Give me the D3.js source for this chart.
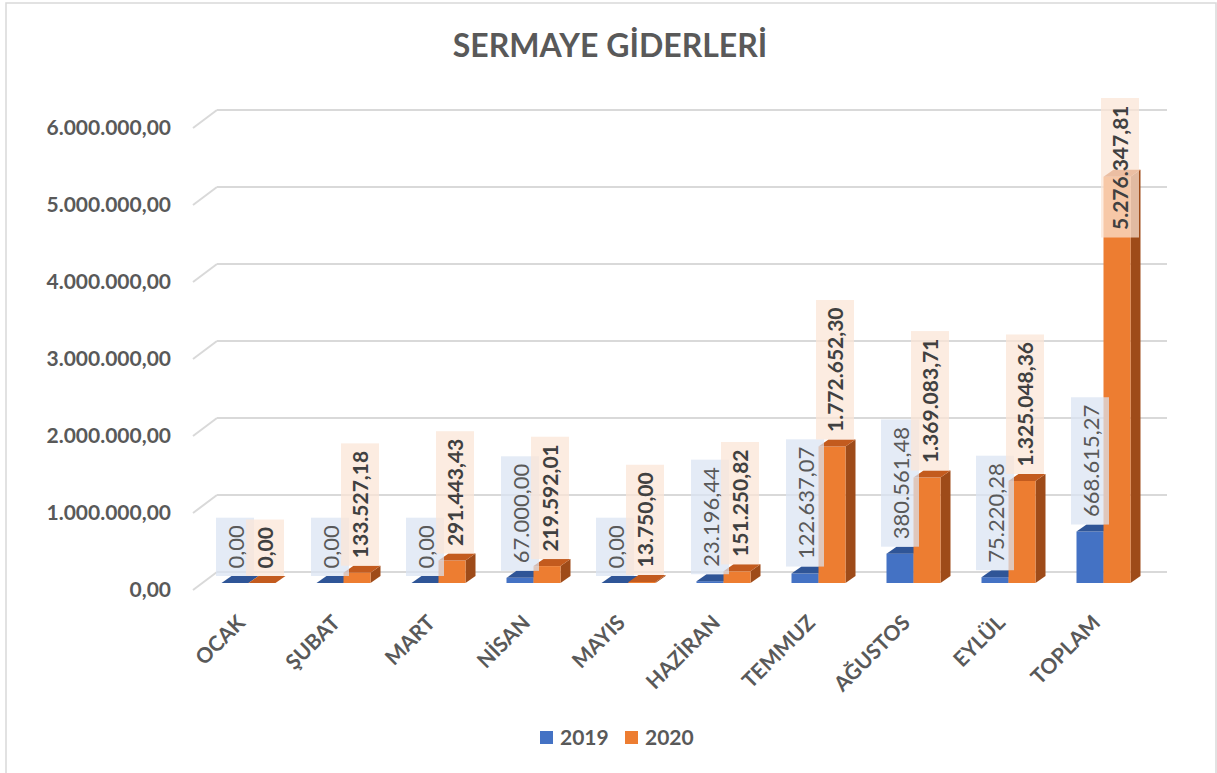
<!DOCTYPE html>
<html>
<head>
<meta charset="utf-8">
<script src="https://cdn.jsdelivr.net/npm/d3@7"></script>
<style>
  html, body { margin: 0; padding: 0; background: #fff; }
  svg { display: block; font-family: Lato, "Open Sans", sans-serif; }
</style>
</head>
<body>
<svg id="chart" width="1217" height="773"></svg>
<script>
const categories = ["OCAK", "ŞUBAT", "MART", "NİSAN", "MAYIS", "HAZİRAN", "TEMMUZ", "AĞUSTOS", "EYLÜL", "TOPLAM"];
const seriesNames = ["2019", "2020"];
const values2019 = [0, 0, 0, 67000.00, 0, 23196.44, 122637.07, 380561.48, 75220.28, 668615.27];
const values2020 = [0, 133527.18, 291443.43, 219592.01, 13750.00, 151250.82, 1772652.30, 1369083.71, 1325048.36, 5276347.81];
const yTicks = [0, 1000000, 2000000, 3000000, 4000000, 5000000, 6000000];
const titleText = "SERMAYE GİDERLERİ";

const colors = {
  "2019": { front: "#4472c4", top: "#2f5597", side: "#2b4c87", box: "#dae3f3" },
  "2020": { front: "#ed7d31", top: "#c35b1e", side: "#9e4b19", box: "#fbe5d6" }
};

const svg = d3.select("#chart");
const tr = d3.formatLocale({ decimal: ",", thousands: ".", grouping: [3], currency: ["", "₺"] });
const fmt = tr.format(",.2f");

// border
svg.append("rect").attr("x", 6).attr("y", 3).attr("width", 1210).attr("height", 780)
  .attr("fill", "#fff").attr("stroke", "#d9d9d9").attr("stroke-width", 1.5);

// title
svg.append("text").attr("x", 610).attr("y", 57).attr("text-anchor", "middle")
  .attr("font-size", 32).attr("font-weight", 700).attr("fill", "#595959").text(titleText);

const x0 = d3.scaleBand().domain(categories).range([201, 1151]).paddingInner(0.4316).paddingOuter(0.2158);
const x1 = d3.scaleBand().domain(seriesNames).range([0, x0.bandwidth()]);
const y = d3.scaleLinear().domain([0, 6000000]).range([583, 121]);

const DX = 10, DY = 7;       // bar depth
const WALL_DX = 24, WALL_DY = 18; // gridline depth
const backOff = -11;

// gridlines
const grid = svg.append("g");
yTicks.forEach(t => {
  const yb = y(t) + backOff;
  grid.append("line").attr("x1", 217).attr("x2", 1167).attr("y1", yb).attr("y2", yb)
    .attr("stroke", "#d9d9d9").attr("stroke-width", 2);
  grid.append("line").attr("x1", 217 - WALL_DX).attr("y1", yb + WALL_DY).attr("x2", 217).attr("y2", yb)
    .attr("stroke", "#d9d9d9").attr("stroke-width", 2);
});

// y axis labels
const yAxis = d3.axisLeft(y).tickValues(yTicks).tickFormat(fmt).tickSize(0).tickPadding(0);
const yg = svg.append("g").attr("transform", "translate(171,7)").call(yAxis);
yg.select(".domain").remove();
yg.selectAll("text").attr("font-size", 21).attr("font-weight", 700).attr("fill", "#595959")
  .attr("font-family", "Lato, sans-serif");

// data
const data = categories.map((c, i) => ({
  cat: c,
  items: [
    { s: "2019", v: values2019[i] },
    { s: "2020", v: values2020[i] }
  ]
}));

const bars = svg.append("g");
data.forEach(d => {
  d.items.forEach(it => {
    const xL = x0(d.cat) + x1(it.s);
    const w = x1.bandwidth();
    const yT = y(it.v), yB = y(0);
    const c = colors[it.s];
    bars.append("path")
      .attr("d", `M${xL + w},${yT} L${xL + w + DX},${yT - DY} L${xL + w + DX},${yB - DY} L${xL + w},${yB} Z`)
      .attr("fill", c.side);
    bars.append("rect").attr("x", xL).attr("y", yT).attr("width", w).attr("height", Math.max(0, yB - yT))
      .attr("fill", c.front);
    bars.append("path")
      .attr("d", `M${xL},${yT} L${xL + DX},${yT - DY} L${xL + w + DX},${yT - DY} L${xL + w},${yT} Z`)
      .attr("fill", c.top);
  });
});

// data labels
const labels = svg.append("g");
data.forEach(d => {
  d.items.forEach(it => {
    const xL = x0(d.cat) + x1(it.s);
    const w = x1.bandwidth();
    const cx = xL + w / 2 + (it.s === "2020" ? 3 : 0);
    const g = labels.append("g");
    const box = g.append("rect");
    const txt = g.append("text")
      .attr("font-size", it.s === "2020" ? 21 : 22)
      .attr("font-weight", it.s === "2020" ? 700 : 400)
      .attr("fill", it.s === "2020" ? "#404040" : "#595959")
      .attr("text-anchor", "middle")
      .attr("dominant-baseline", "central")
      .text(fmt(it.v));
    const len = txt.node().getComputedTextLength();
    const h = len + 15;
    let bottom = y(it.v) - DY;
    let top = bottom - h;
    if (top < 98) { top = 98; bottom = top + h; }
    box.attr("x", cx - 19).attr("y", top).attr("width", 38).attr("height", h)
      .attr("fill", colors[it.s].box).attr("fill-opacity", 0.72);
    txt.attr("transform", `translate(${cx},${(top + bottom) / 2}) rotate(-90)`);
  });
});

// category labels
const xg = svg.append("g");
categories.forEach(c => {
  const cx = x0(c) + x0.bandwidth() / 2;
  xg.append("text")
    .attr("transform", `translate(${cx - 2},${624}) rotate(-45)`)
    .attr("text-anchor", "end")
    .attr("font-size", 21).attr("font-weight", 700).attr("fill", "#595959")
    .text(c);
});

// legend
const legend = svg.append("g");
[{ s: "2019", x: 540 }, { s: "2020", x: 625 }].forEach(l => {
  legend.append("rect").attr("x", l.x).attr("y", 731).attr("width", 13).attr("height", 13)
    .attr("fill", colors[l.s].front);
  legend.append("text").attr("x", l.x + 20).attr("y", 745)
    .attr("font-size", 21).attr("font-weight", 700).attr("fill", "#595959").text(l.s);
});
</script>
</body>
</html>
